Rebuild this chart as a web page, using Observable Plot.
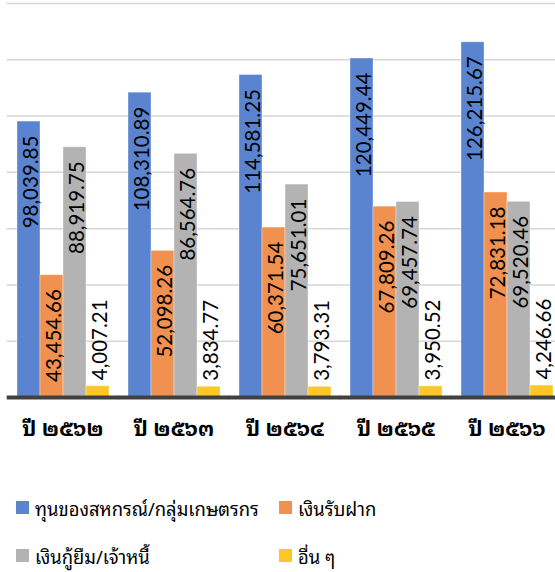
<!DOCTYPE html>
<html>
<head>
<meta charset="utf-8">
<script src="https://cdn.jsdelivr.net/npm/d3@7"></script>
<script src="https://cdn.jsdelivr.net/npm/@observablehq/plot@0.6"></script>
<style>
  html, body { margin: 0; padding: 0; background: #fff; }
  #wrap { position: relative; width: 555px; height: 572px; overflow: hidden; }
  #legend { position: absolute; left: 0; top: 0; width: 555px; font-family: "Noto Sans Thai Looped", "Loma", "Garuda", "Tahoma", "Noto Sans Thai", "Noto Sans", sans-serif; font-size: 18.4px; color: #000; }
  .item { position: absolute; display: flex; align-items: center; white-space: nowrap; }
  .sw { width: 13px; height: 13px; margin-right: 6px; flex: none; }
</style>
</head>
<body>
<div id="wrap"><div id="chart"></div><div id="legend"></div></div>
<script>
const years = ["ปี ๒๕๖๒", "ปี ๒๕๖๓", "ปี ๒๕๖๔", "ปี ๒๕๖๕", "ปี ๒๕๖๖"];
const series = ["ทุนของสหกรณ์/กลุ่มเกษตรกร", "เงินรับฝาก", "เงินกู้ยืม/เจ้าหนี้", "อื่น ๆ"];
const colors = ["#5b84d0", "#f0914f", "#b3b3b3", "#ffc726"];
const capital  = [98039.85, 108310.89, 114581.25, 120449.44, 126215.67];
const deposits = [43454.66, 52098.26, 60371.54, 67809.26, 72831.18];
const loans    = [88919.75, 86564.76, 75651.01, 69457.74, 69520.46];
const other    = [4007.21, 3834.77, 3793.31, 3950.52, 4246.66];
const gridTicks = [20000, 40000, 60000, 80000, 100000, 120000, 140000];

const valuesBySeries = [capital, deposits, loans, other];
const data = [];
years.forEach((y, i) => {
  series.forEach((s, j) => data.push({year: y, series: s, value: valuesBySeries[j][i]}));
});
const fmt = d3.format(",.2f");
const gapHalf = -8.3;
const thaiFont = "'Noto Sans Thai Looped', Loma, Garuda, Tahoma, 'Noto Sans Thai', 'Noto Sans', sans-serif";

const chart = Plot.plot({
  width: 555,
  height: 470,
  marginTop: 3,
  marginBottom: 73,
  marginLeft: 7,
  marginRight: -7,
  style: {fontFamily: "Lato, 'Noto Sans', sans-serif", background: "#fff", overflow: "hidden"},
  fx: {domain: years, paddingInner: 0.147, paddingOuter: 0.0735, label: null},
  x: {domain: series, padding: 0.02, axis: null},
  y: {domain: [0, 140000], axis: null},
  color: {domain: series, range: colors},
  marks: [
    Plot.ruleY(gridTicks, {stroke: "#d6d6d6", strokeWidth: 1.5, insetLeft: gapHalf, insetRight: gapHalf}),
    Plot.barY(data, {fx: "year", x: "series", y: "value", fill: "series", stroke: "#ffffff", strokeOpacity: 0.35, strokeWidth: 1}),
    Plot.text(data.filter(d => d.series !== series[3]), {
      fx: "year", x: "series", y: "value", text: d => fmt(d.value),
      rotate: -90, textAnchor: "end", lineAnchor: "middle", dy: 14, dx: 2,
      fontSize: 20.5, fill: "#000"
    }),
    Plot.text(data.filter(d => d.series === series[3]), {
      fx: "year", x: "series", y: "value", text: d => fmt(d.value),
      rotate: -90, textAnchor: "start", lineAnchor: "middle", dy: -6, dx: 2,
      fontSize: 20.5, fill: "#000"
    }),
    Plot.ruleY([0], {stroke: "#404040", strokeWidth: 4, insetLeft: gapHalf, insetRight: gapHalf}),
    Plot.axisFx({anchor: "bottom", tickSize: 0, tickPadding: 24, fontSize: 21, fontWeight: "bold",
      fontFamily: thaiFont, label: null})
  ]
});
document.getElementById("chart").appendChild(chart);

const legend = document.getElementById("legend");
const pos = [[16, 507], [279, 507], [16, 555], [279, 555]];
series.forEach((s, i) => {
  const it = document.createElement("div");
  it.className = "item";
  it.style.left = pos[i][0] + "px";
  it.style.top = (pos[i][1] - 15) + "px";
  it.style.height = "30px";
  const sw = document.createElement("span");
  sw.className = "sw";
  sw.style.background = colors[i];
  const tx = document.createElement("span");
  tx.textContent = s;
  it.appendChild(sw); it.appendChild(tx);
  legend.appendChild(it);
});
</script>
</body>
</html>
